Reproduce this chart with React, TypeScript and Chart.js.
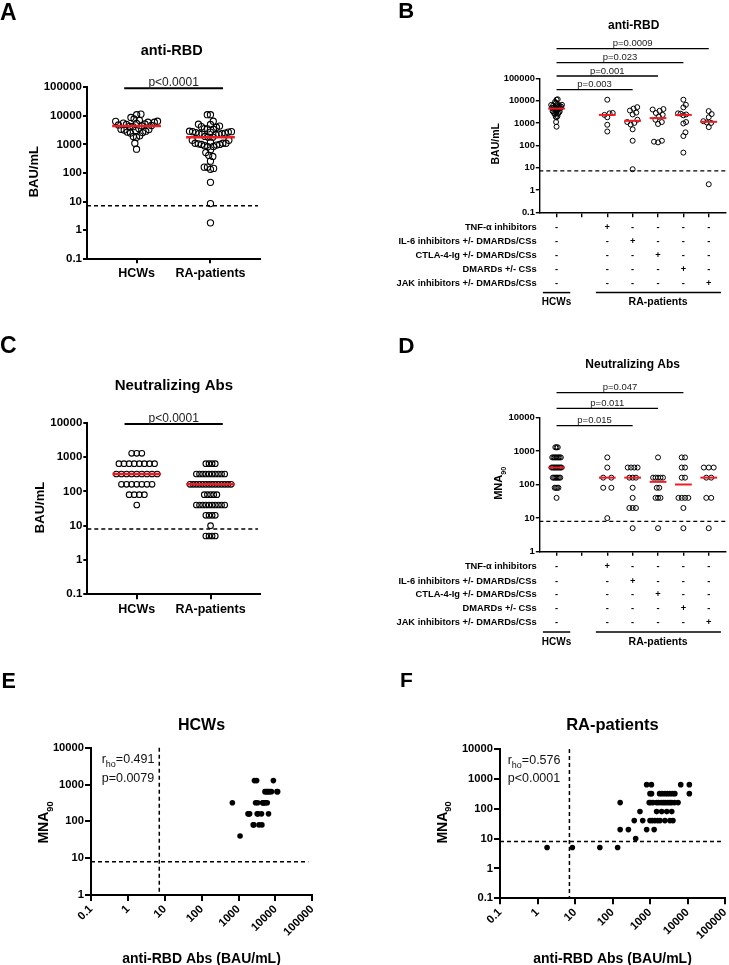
import React, { useEffect, useRef } from 'react';
import { Chart, registerables } from 'chart.js';

Chart.register(...registerables);

const FONT = '"Liberation Sans", Arial, Helvetica, sans-serif';
Chart.defaults.font.family = FONT;

// ---------------- data ----------------
const cutoffRBD = 7.1; // BAU/mL
const cutoffMNA = 8; // MNA90

const groupsAC = ['HCWs', 'RA-patients'];
const treatments = [
  'TNF-α inhibitors',
  'IL-6 inhibitors +/- DMARDs/CSs',
  'CTLA-4-Ig +/- DMARDs/CSs',
  'DMARDs +/- CSs',
  'JAK inhibitors +/- DMARDs/CSs',
];

// HCWs: anti-RBD (BAU/mL) paired with MNA90 (same index = same subject)
const hcwRBD = [
  2700, 3100, 8800,
  5200, 5600, 6000, 6400, 7000, 7800, 11000, 11500,
  680, 2900, 3300, 4600, 4500, 4800, 5000, 5400, 6000,
  1800, 1900, 2000, 3200, 3400, 4200, 6500,
  2500, 2600, 3600, 4300,
  1100,
];
const hcwMNA = [
  1280, 1280, 1280,
  640, 640, 640, 640, 640, 640, 640, 640,
  320, 320, 320, 320, 320, 320, 320, 320, 320,
  160, 160, 160, 160, 160, 160, 160,
  80, 80, 80, 80,
  40,
];

// RA patients, anti-RBD by treatment group (panel B)
const rbdTNF = [11000, 2800, 2700, 2300, 1800, 830, 415];
const rbdIL6 = [5100, 4400, 3600, 2900, 2400, 1400, 1100, 1000, 850, 520, 160, 8.5];
const rbdCTLA = [4200, 4000, 3500, 2800, 2300, 1900, 1400, 1100, 900, 160, 145, 135];
const rbdDMARD = [11000, 6500, 5000, 2700, 2600, 2400, 2200, 1100, 950, 380, 260, 47];
const rbdJAK = [3400, 2500, 1800, 1200, 1050, 1000, 650, 1.8];

// RA patients, MNA90 by treatment group (panel D)
const mnaTNF = [640, 320, 160, 160, 80, 80, 10];
const mnaIL6 = [320, 320, 320, 320, 160, 160, 160, 80, 40, 20, 20, 20, 5];
const mnaCTLA = [640, 160, 160, 160, 160, 160, 80, 80, 40, 40, 40, 5];
const mnaDMARD = [640, 640, 320, 320, 160, 160, 40, 40, 40, 40, 20, 5];
const mnaJAK = [320, 320, 320, 160, 160, 40, 40, 5];

// RA patients correlation pairs (panel F)
const raCorrRBD = [
  1.8, 8.5, 46, 137,
  415,
  160, 265, 815, 1290,
  380, 640, 1000, 1150, 1350, 1600, 1850, 2500, 3400, 4100,
  540, 1500, 2050, 2800, 3800,
  160, 950, 1050, 1200, 1500, 1700, 2000, 2300, 2600, 3000, 3400, 3800, 4500, 5600,
  1000, 1100, 1800, 2100, 2500, 2900, 3400, 4000, 4600, 11200,
  815, 1090, 6600, 11200,
];
const raCorrMNA = [
  5, 5, 5, 5,
  10,
  20, 20, 20, 20,
  40, 40, 40, 40, 40, 40, 40, 40, 40, 40,
  80, 80, 80, 80, 80,
  160, 160, 160, 160, 160, 160, 160, 160, 160, 160, 160, 160, 160, 160,
  320, 320, 320, 320, 320, 320, 320, 320, 320, 320,
  640, 640, 640, 640,
];

const pA = 'p<0.0001';
const pC = 'p<0.0001';
const pBarsB = [
  { to: 4, label: 'p=0.003' },
  { to: 5, label: 'p=0.001' },
  { to: 6, label: 'p=0.023' },
  { to: 7, label: 'p=0.0009' },
];
const pBarsD = [
  { to: 4, label: 'p=0.015' },
  { to: 5, label: 'p=0.011' },
  { to: 6, label: 'p=0.047' },
];
const rhoE = '=0.491';
const pE = 'p=0.0079';
const rhoF = '=0.576';
const pF = 'p<0.0001';

const ticksRBD = [0.1, 1, 10, 100, 1000, 10000, 100000];
const labelsRBD = ['0.1', '1', '10', '100', '1000', '10000', '100000'];
const ticksMNA5 = [0.1, 1, 10, 100, 1000, 10000];
const labelsMNA5 = ['0.1', '1', '10', '100', '1000', '10000'];
const ticksMNA4 = [1, 10, 100, 1000, 10000];
const labelsMNA4 = ['1', '10', '100', '1000', '10000'];

const rbdGroups = [rbdTNF, rbdIL6, rbdCTLA, rbdDMARD, rbdJAK];
const mnaGroups = [mnaTNF, mnaIL6, mnaCTLA, mnaDMARD, mnaJAK];
const raRBD = rbdGroups.flat();
const raMNA = mnaGroups.flat();
const groupCats = [3, 4, 5, 6, 7];

// ---------------- helpers ----------------
const RED = '#ee1c25';

function median(a: number[]) {
  const s = [...a].sort((x, y) => x - y);
  const n = s.length;
  return n % 2 ? s[(n - 1) / 2] : (s[n / 2 - 1] + s[n / 2]) / 2;
}

function swarm(values: number[], ppd: number, d: number, half: number): number[] {
  const ys = values.map((v) => Math.log10(v) * ppd);
  const order = ys.map((_, i) => i).sort((a, b) => ys[a] - ys[b]);
  const xs = new Array(values.length).fill(0);
  const placed: number[] = [];
  let flip = 1;
  for (const i of order) {
    const cands = [0];
    for (const j of placed) {
      const dy = ys[i] - ys[j];
      if (Math.abs(dy) < d) {
        const dx = Math.sqrt(d * d - dy * dy);
        cands.push(xs[j] + dx * flip, xs[j] - dx * flip);
      }
    }
    const sorted = cands.map((c, k) => ({ c, k })).sort((a, b) => Math.abs(a.c) - Math.abs(b.c) || a.k - b.k);
    let best = sorted[sorted.length - 1].c;
    for (const { c } of sorted) {
      if (placed.every((j) => (c - xs[j]) ** 2 + (ys[i] - ys[j]) ** 2 >= d * d - 1e-6)) {
        best = c;
        break;
      }
    }
    xs[i] = best;
    placed.push(i);
    flip = -flip;
  }
  const m = Math.max(1e-9, ...xs.map((x) => Math.abs(x)));
  const s = m > half ? half / m : 1;
  return xs.map((x) => x * s);
}

function rows(values: number[], stepMax: number, span: number): number[] {
  const counts = new Map<number, number>();
  values.forEach((v) => counts.set(v, (counts.get(v) || 0) + 1));
  const maxN = Math.max(...Array.from(counts.values()));
  const step = maxN > 1 ? Math.min(stepMax, span / (maxN - 1)) : 0;
  const seen = new Map<number, number>();
  return values.map((v) => {
    const n = counts.get(v)!;
    const k = seen.get(v) || 0;
    seen.set(v, k + 1);
    return (k - (n - 1) / 2) * step;
  });
}

function col(values: number[], cat: number, offs: number[], ppu: number) {
  return values.map((v, i) => ({ x: cat + offs[i] / ppu, y: v }));
}

function openPts(data: any[], r: number, bw: number) {
  return {
    data, pointRadius: r, pointHoverRadius: r, pointBorderWidth: bw,
    pointBorderColor: '#000', pointBackgroundColor: 'rgba(0,0,0,0)', clip: false,
  };
}
function solidPts(data: any[], r: number) {
  return {
    data, pointRadius: r, pointHoverRadius: r, pointBorderWidth: 0,
    pointBorderColor: '#000', pointBackgroundColor: '#000', clip: false,
  };
}

type Seg = { t: string; sub?: boolean };
function rich(ctx: CanvasRenderingContext2D, segs: Seg[], x: number, y: number, size: number,
  o: { bold?: boolean; align?: 'left' | 'center' | 'right'; rot?: number; subScale?: number; color?: string } = {}) {
  const fw = o.bold ? 'bold ' : '';
  const subSize = size * (o.subScale ?? 0.68);
  ctx.save();
  ctx.fillStyle = o.color ?? '#000';
  ctx.textBaseline = 'alphabetic';
  ctx.textAlign = 'left';
  const widths = segs.map((s) => {
    ctx.font = `${fw}${s.sub ? subSize : size}px ${FONT}`;
    return ctx.measureText(s.t).width;
  });
  const total = widths.reduce((a, b) => a + b, 0);
  let cx = o.align === 'center' ? -total / 2 : o.align === 'right' ? -total : 0;
  ctx.translate(x, y);
  if (o.rot) ctx.rotate(o.rot);
  segs.forEach((s, i) => {
    ctx.font = `${fw}${s.sub ? subSize : size}px ${FONT}`;
    ctx.fillText(s.t, cx, s.sub ? size * 0.3 : 0);
    cx += widths[i];
  });
  ctx.restore();
}
// text centred on its cap height
function capText(ctx: CanvasRenderingContext2D, s: string, cx: number, cy: number, size: number, bold = true,
  align: 'left' | 'center' | 'right' = 'center', color = '#000') {
  rich(ctx, [{ t: s }], cx, cy + 0.358 * size, size, { bold, align, color });
}
function rotLabel(ctx: CanvasRenderingContext2D, segs: Seg[], capCx: number, cy: number, size: number) {
  rich(ctx, segs, capCx + 0.358 * size, cy, size, { bold: true, align: 'center', rot: -Math.PI / 2, subScale: 0.66 });
}
function letter(ctx: CanvasRenderingContext2D, s: string, x: number, base: number, size: number) {
  rich(ctx, [{ t: s }], x, base, size, { bold: true });
}
function line(ctx: CanvasRenderingContext2D, x1: number, y1: number, x2: number, y2: number, w: number,
  color = '#000', dash: number[] = []) {
  ctx.save();
  ctx.strokeStyle = color;
  ctx.lineWidth = w;
  ctx.setLineDash(dash);
  ctx.beginPath();
  ctx.moveTo(x1, y1);
  ctx.lineTo(x2, y2);
  ctx.stroke();
  ctx.restore();
}
const DASH = [4, 3];
function pBar(ctx: CanvasRenderingContext2D, x1: number, x2: number, y: number, w: number, label: string, size: number) {
  line(ctx, x1, y, x2, y, w);
  rich(ctx, [{ t: label }], (x1 + x2) / 2, y - 2.5, size, { align: 'center', color: '#222' });
}
function medianLine(ctx: CanvasRenderingContext2D, ch: any, cat: number, values: number[], halfW: number, w: number) {
  const X = ch.scales.x, Y = ch.scales.y;
  const y = Y.getPixelForValue(median(values));
  line(ctx, X.getPixelForValue(cat - halfW), y, X.getPixelForValue(cat + halfW), y, w, RED);
}
const tableRows = [14, 28.5, 42.2, 56, 70];
function drawTable(ctx: CanvasRenderingContext2D, ch: any) {
  const X = ch.scales.x;
  const ar = ch.chartArea;
  treatments.forEach((t, r) => {
    const y = ar.bottom + tableRows[r];
    capText(ctx, t, ar.left - 2.6, y, 9.3, true, 'right');
    capText(ctx, '-', X.getPixelForValue(1), y, 9.3, true);
    groupCats.forEach((c, g) => capText(ctx, g === r ? '+' : '-', X.getPixelForValue(c), y, 9.3, true));
  });
  const ly = ar.bottom + 80.3;
  line(ctx, X.getPixelForValue(0.46), ly, X.getPixelForValue(1.54), ly, 1.5);
  line(ctx, X.getPixelForValue(2.55), ly, X.getPixelForValue(7.48), ly, 1.5);
  capText(ctx, 'HCWs', X.getPixelForValue(1), ar.bottom + 89.3, 10, true);
  capText(ctx, 'RA-patients', X.getPixelForValue(5), ar.bottom + 89.3, 10.5, true);
}

// ---------------- panel specs ----------------
interface AxisSpec {
  type: 'linear' | 'logarithmic';
  min: number; max: number;
  ticks: number[];
  labels: string[] | null;
  font: number; tl: number; pad: number; lw: number; rot?: number;
}
interface Spec {
  key: string; left: number; top: number; width: number; height: number;
  area: { l: number; r: number; t: number; b: number };
  x: AxisSpec; y: AxisSpec;
}
const ppu = (s: Spec) => (s.area.r - s.area.l) / (s.x.max - s.x.min);
const ppd = (s: Spec) => (s.area.b - s.area.t) / (Math.log10(s.y.max) - Math.log10(s.y.min));

const catAxisAC = (lw: number, tl: number): AxisSpec => ({
  type: 'linear', min: 0.33, max: 2.67, ticks: [1, 2], labels: groupsAC, font: 12.5, tl, pad: 3, lw,
});
const catAxisBD = (tl: number): AxisSpec => ({
  type: 'linear', min: 0.32, max: 7.66, ticks: [1, 2, 3, 4, 5, 6, 7], labels: null, font: 9, tl, pad: 1, lw: 1.4,
});

const specA: Spec = {
  key: 'A', left: 0, top: 0, width: 360, height: 300,
  area: { l: 87, r: 260, t: 87.3, b: 258.7 },
  x: catAxisAC(2, 4.5),
  y: { type: 'logarithmic', min: 0.1, max: 100000, ticks: ticksRBD, labels: labelsRBD, font: 11.5, tl: 4, pad: 1, lw: 2 },
};
const specB: Spec = {
  key: 'B', left: 360, top: 0, width: 369, height: 330,
  area: { l: 179.3, r: 368.3, t: 78.3, b: 212.3 },
  x: catAxisBD(5),
  y: { type: 'logarithmic', min: 0.1, max: 100000, ticks: ticksRBD, labels: labelsRBD, font: 9.3, tl: 3.5, pad: 1, lw: 1.4 },
};
const specC: Spec = {
  key: 'C', left: 0, top: 330, width: 360, height: 320,
  area: { l: 87.3, r: 260, t: 92.7, b: 264.3 },
  x: catAxisAC(2, 5),
  y: { type: 'logarithmic', min: 0.1, max: 10000, ticks: ticksMNA5, labels: labelsMNA5, font: 11.5, tl: 4, pad: 1, lw: 2 },
};
const specD: Spec = {
  key: 'D', left: 360, top: 330, width: 369, height: 320,
  area: { l: 179.3, r: 368.3, t: 87.3, b: 221.7 },
  x: catAxisBD(4),
  y: { type: 'logarithmic', min: 1, max: 10000, ticks: ticksMNA4, labels: labelsMNA4, font: 9.5, tl: 3.5, pad: 1, lw: 1.4 },
};
const specE: Spec = {
  key: 'E', left: 0, top: 650, width: 360, height: 315,
  area: { l: 91, r: 312.3, t: 97.7, b: 245 },
  x: { type: 'logarithmic', min: 0.1, max: 100000, ticks: ticksRBD, labels: labelsRBD, font: 11.3, tl: 6, pad: 1.5, lw: 2, rot: 45 },
  y: { type: 'logarithmic', min: 1, max: 10000, ticks: ticksMNA4, labels: labelsMNA4, font: 11.2, tl: 6, pad: 1, lw: 2 },
};
const specF: Spec = {
  key: 'F', left: 360, top: 650, width: 369, height: 315,
  area: { l: 140, r: 365, t: 99, b: 248.3 },
  x: { type: 'logarithmic', min: 0.1, max: 100000, ticks: ticksRBD, labels: labelsRBD, font: 11.3, tl: 6, pad: 1.5, lw: 2, rot: 45 },
  y: { type: 'logarithmic', min: 0.1, max: 10000, ticks: ticksMNA5, labels: labelsMNA5, font: 11.2, tl: 6, pad: 1, lw: 2 },
};

// ---------------- datasets ----------------
const dsA = [
  openPts(col(hcwRBD, 1, swarm(hcwRBD, ppd(specA), 7, 21), ppu(specA)), 3.1, 1.1),
  openPts(col(raRBD, 2, swarm(raRBD, ppd(specA), 7, 21), ppu(specA)), 3.1, 1.1),
];
const dsB = [
  openPts(col(hcwRBD, 1, swarm(hcwRBD, ppd(specB), 5.6, 5.5), ppu(specB)), 2.5, 1),
  ...rbdGroups.map((g, k) => openPts(col(g, groupCats[k], swarm(g, ppd(specB), 5.6, 5.5), ppu(specB)), 2.5, 1)),
];
const dsC = [
  openPts(col(hcwMNA, 1, rows(hcwMNA, 5.1, 41), ppu(specC)), 2.8, 1.1),
  openPts(col(raMNA, 2, rows(raMNA, 5.1, 41), ppu(specC)), 2.8, 1.1),
];
const dsD = [
  openPts(col(hcwMNA, 1, rows(hcwMNA, 8.3, 10), ppu(specD)), 2.5, 1),
  ...mnaGroups.map((g, k) => openPts(col(g, groupCats[k], rows(g, 8.3, 10), ppu(specD)), 2.5, 1)),
];
const dsE = [solidPts(hcwRBD.map((v, i) => ({ x: v, y: hcwMNA[i] })), 2.8)];
const dsF = [solidPts(raCorrRBD.map((v, i) => ({ x: v, y: raCorrMNA[i] })), 2.8)];

// ---------------- decorations ----------------
const drawA = (ctx: CanvasRenderingContext2D, ch: any) => {
  const X = ch.scales.x, Y = ch.scales.y, ar = ch.chartArea;
  letter(ctx, 'A', 0, 20, 23);
  capText(ctx, 'anti-RBD', 171.7, 50, 14.5);
  rotLabel(ctx, [{ t: 'BAU/mL' }], 33.3, 171.7, 13);
  const yc = Y.getPixelForValue(cutoffRBD);
  line(ctx, ar.left, yc, ar.right - 2, yc, 1.5, '#000', DASH);
  pBar(ctx, X.getPixelForValue(0.833), X.getPixelForValue(2.17), ar.top + 1, 2, pA, 12);
  medianLine(ctx, ch, 1, hcwRBD, 0.33, 2.5);
  medianLine(ctx, ch, 2, raRBD, 0.33, 2.5);
};
const drawB = (ctx: CanvasRenderingContext2D, ch: any) => {
  const X = ch.scales.x, Y = ch.scales.y, ar = ch.chartArea;
  letter(ctx, 'B', 38.3, 18.3, 22);
  capText(ctx, 'anti-RBD', 273.7, 24.5, 12);
  rotLabel(ctx, [{ t: 'BAU/mL' }], 135.5, 143.8, 10.5);
  const yc = Y.getPixelForValue(cutoffRBD);
  line(ctx, ar.left, yc, ar.right, yc, 1.3, '#000', DASH);
  const offs = [11.4, -2.3, -15.6, -29.6];
  pBarsB.forEach((b, i) => pBar(ctx, X.getPixelForValue(1), X.getPixelForValue(b.to), ar.top + offs[i], 1.3, b.label, 9.5));
  medianLine(ctx, ch, 1, hcwRBD, 0.33, 2);
  rbdGroups.forEach((g, k) => medianLine(ctx, ch, groupCats[k], g, 0.33, 2));
  drawTable(ctx, ch);
};
const drawC = (ctx: CanvasRenderingContext2D, ch: any) => {
  const X = ch.scales.x, Y = ch.scales.y, ar = ch.chartArea;
  letter(ctx, 'C', 0, 23.3, 23);
  capText(ctx, 'Neutralizing Abs', 173.8, 55, 15);
  rotLabel(ctx, [{ t: 'BAU/mL' }], 39.5, 177.5, 13);
  const yc = Y.getPixelForValue(cutoffMNA);
  line(ctx, ar.left, yc, ar.right - 2, yc, 1.5, '#000', DASH);
  pBar(ctx, X.getPixelForValue(0.835), X.getPixelForValue(2.166), ar.top + 1.3, 2, pC, 12);
  medianLine(ctx, ch, 1, hcwMNA, 0.33, 2.5);
  medianLine(ctx, ch, 2, raMNA, 0.33, 2.5);
};
const drawD = (ctx: CanvasRenderingContext2D, ch: any) => {
  const X = ch.scales.x, Y = ch.scales.y, ar = ch.chartArea;
  letter(ctx, 'D', 38.3, 23.3, 22.5);
  capText(ctx, 'Neutralizing Abs', 272.7, 33.5, 12);
  rotLabel(ctx, [{ t: 'MNA' }, { t: '90', sub: true }], 138.3, 153.3, 11);
  const yc = Y.getPixelForValue(cutoffMNA);
  line(ctx, ar.left, yc, ar.right, yc, 1.3, '#000', DASH);
  const offs = [8.4, -9, -24.6];
  pBarsD.forEach((b, i) => pBar(ctx, X.getPixelForValue(1), X.getPixelForValue(b.to), ar.top + offs[i], 1.3, b.label, 9.5));
  medianLine(ctx, ch, 1, hcwMNA, 0.33, 2);
  mnaGroups.forEach((g, k) => medianLine(ctx, ch, groupCats[k], g, 0.33, 2));
  drawTable(ctx, ch);
};
const drawCorr = (title: string, rho: string, p: string, o: any) => (ctx: CanvasRenderingContext2D, ch: any) => {
  const X = ch.scales.x, Y = ch.scales.y, ar = ch.chartArea;
  letter(ctx, o.letter, o.lx, o.lb, o.ls);
  capText(ctx, title, o.tx, 74.2, o.ts);
  rotLabel(ctx, [{ t: 'MNA' }, { t: '90', sub: true }], o.yx, 172.5, 14);
  capText(ctx, 'anti-RBD Abs (BAU/mL)', o.tx, 308.3, 14);
  const yc = Y.getPixelForValue(cutoffMNA);
  line(ctx, ar.left, yc, ar.right - o.hcut, yc, 1.5, '#000', DASH);
  const xc = X.getPixelForValue(cutoffRBD);
  line(ctx, xc, ar.top, xc, ar.bottom, 1.5, '#000', DASH);
  rich(ctx, [{ t: 'r' }, { t: 'ho', sub: true }, { t: rho }], o.rx, o.rb1, 12.5, { color: '#111', subScale: 0.72 });
  rich(ctx, [{ t: p }], o.rx, o.rb2, 12.5, { color: '#111' });
};
const drawE = drawCorr('HCWs', rhoE, pE, { letter: 'E', lx: 1.5, lb: 38.3, ls: 21.5, tx: 201.5, ts: 16, yx: 43.3, hcut: 4, rx: 101.7, rb1: 113.3, rb2: 132.3 });
const drawF = drawCorr('RA-patients', rhoF, pF, { letter: 'F', lx: 40, lb: 36.7, ls: 21, tx: 252.5, ts: 16.5, yx: 82, hcut: 3.3, rx: 147.7, rb1: 114, rb2: 132.3 });

// ---------------- chart config ----------------
function axisOpts(a: AxisSpec, isX: boolean, fixed: number) {
  return {
    type: a.type, min: a.min, max: a.max, position: isX ? 'bottom' : 'left', offset: false,
    border: { display: true, color: '#000', width: a.lw },
    grid: { display: true, drawOnChartArea: false, drawTicks: true, tickLength: a.tl, color: '#000', lineWidth: a.lw },
    ticks: {
      display: !!a.labels, autoSkip: false, color: '#000', padding: a.pad,
      font: { family: FONT, size: a.font, weight: 'bold' },
      minRotation: a.rot ?? 0, maxRotation: a.rot ?? 0,
      callback: (_v: any, i: number) => (a.labels ? a.labels[i] ?? '' : ''),
    },
    afterBuildTicks: (s: any) => { s.ticks = a.ticks.map((v) => ({ value: v })); },
    afterFit: (s: any) => {
      if (isX) s.height = fixed; else s.width = fixed;
      s.paddingLeft = 0; s.paddingRight = 0; s.paddingTop = 0; s.paddingBottom = 0;
    },
  };
}

function buildConfig(spec: Spec, datasets: any[], draw: (ctx: CanvasRenderingContext2D, ch: any) => void): any {
  const YW = spec.area.l - 2;
  const XH = spec.height - spec.area.b - 2;
  return {
    type: 'scatter',
    data: { datasets },
    options: {
      animation: false, responsive: false, maintainAspectRatio: false, devicePixelRatio: 1, events: [],
      layout: { padding: { left: 2, top: spec.area.t, right: spec.width - spec.area.r, bottom: 2 } },
      plugins: { legend: { display: false }, tooltip: { enabled: false }, title: { display: false } },
      scales: { x: axisOpts(spec.x, true, XH), y: axisOpts(spec.y, false, YW) },
    },
    plugins: [{ id: 'extras' + spec.key, afterDatasetsDraw(chart: any) { draw(chart.ctx, chart); } }],
  };
}

const panels = [
  { spec: specA, ds: dsA, draw: drawA },
  { spec: specB, ds: dsB, draw: drawB },
  { spec: specC, ds: dsC, draw: drawC },
  { spec: specD, ds: dsD, draw: drawD },
  { spec: specE, ds: dsE, draw: drawE },
  { spec: specF, ds: dsF, draw: drawF },
];

function Panel({ spec, ds, draw }: { spec: Spec; ds: any[]; draw: any }) {
  const ref = useRef<HTMLCanvasElement>(null);
  useEffect(() => {
    const chart = new Chart(ref.current as HTMLCanvasElement, buildConfig(spec, ds, draw));
    return () => chart.destroy();
  }, []);
  return (
    <canvas
      ref={ref}
      width={spec.width}
      height={spec.height}
      style={{ position: 'absolute', left: spec.left, top: spec.top, width: spec.width, height: spec.height }}
    />
  );
}

export default function App() {
  return (
    <div style={{ position: 'absolute', left: 0, top: 0, width: 729, height: 965, background: '#fff', overflow: 'hidden' }}>
      {panels.map((p) => (
        <Panel key={p.spec.key} spec={p.spec} ds={p.ds} draw={p.draw} />
      ))}
    </div>
  );
}
